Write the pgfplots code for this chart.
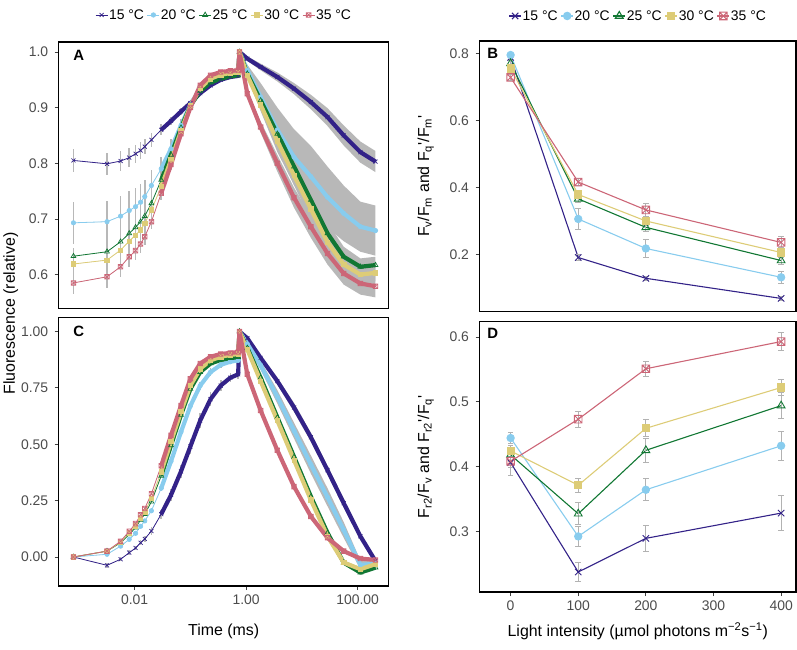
\documentclass[border=0pt]{standalone}
\usepackage{fontspec}
\setmainfont{Liberation Sans}
\usepackage{pgfplots}
\usepackage{pgfplotstable}
\pgfplotsset{compat=1.18}
\usepgfplotslibrary{fillbetween}

\definecolor{c15}{HTML}{332288}
\definecolor{c20}{HTML}{88CCEE}
\definecolor{c25}{HTML}{117733}
\definecolor{c30}{HTML}{DDCC77}
\definecolor{c35}{HTML}{CC6677}

\newcommand\tickfont{\fontsize{14}{15}\selectfont}
\newcommand\titlefont{\fontsize{16}{18}\selectfont}
\newcommand\legfont{\fontsize{14}{16}\selectfont}
\newcommand\letterfont{\fontsize{15}{16}\selectfont\bfseries}

% square with a cross (ggplot shape 7)
\pgfdeclareplotmark{boxx}{%
  \pgfpathrectangle{\pgfpoint{-\pgfplotmarksize}{-\pgfplotmarksize}}{\pgfpoint{2\pgfplotmarksize}{2\pgfplotmarksize}}%
  \pgfpathmoveto{\pgfpoint{-\pgfplotmarksize}{-\pgfplotmarksize}}%
  \pgfpathlineto{\pgfpoint{\pgfplotmarksize}{\pgfplotmarksize}}%
  \pgfpathmoveto{\pgfpoint{-\pgfplotmarksize}{\pgfplotmarksize}}%
  \pgfpathlineto{\pgfpoint{\pgfplotmarksize}{-\pgfplotmarksize}}%
  \pgfusepathqstroke}

% ---- panel A: dark-adapted induction + relaxation (t in ms) ----
% e = error bar, r = ribbon half width
\pgfplotstableread{
t v e r
0.0008 0.805 0.020 0
0.0032 0.799 0.020 0
0.0056 0.804 0.018 0
0.008 0.810 0.017 0
0.0104 0.817 0.016 0
0.0128 0.823 0.015 0
0.0152 0.830 0.014 0
0.02 0.842 0.012 0
0.03 0.860 0.010 0
0.045 0.876 0.008 0
0.068 0.893 0.006 0
0.1 0.908 0.005 0
0.15 0.926 0.004 0
0.23 0.940 0.003 0
0.35 0.950 0.003 0
0.52 0.955 0.003 0
0.72 0.957 0.003 0
0.76 1.000 0 0
1.05 0.988 0 0.004
1.82 0.973 0 0.006
3.63 0.955 0 0.008
7.24 0.934 0 0.010
14.5 0.910 0 0.013
28.8 0.883 0 0.016
56.2 0.850 0 0.018
112 0.820 0 0.019
209 0.803 0 0.019
}\Aa
\pgfplotstableread{
t v e r
0.0008 0.693 0.038 0
0.0032 0.695 0.038 0
0.0056 0.705 0.037 0
0.008 0.715 0.036 0
0.0104 0.722 0.034 0
0.0128 0.730 0.032 0
0.0152 0.740 0.030 0
0.02 0.760 0.027 0
0.03 0.790 0.022 0
0.045 0.826 0.017 0
0.068 0.868 0.012 0
0.1 0.905 0.008 0
0.15 0.935 0.005 0
0.23 0.952 0.004 0
0.35 0.959 0.003 0
0.52 0.962 0.003 0
0.72 0.963 0.003 0
0.76 1.000 0 0
1.05 0.967 0 0.010
1.82 0.919 0 0.025
3.63 0.860 0 0.040
7.24 0.811 0 0.050
14.5 0.776 0 0.055
28.8 0.739 0 0.055
56.2 0.710 0 0.050
112 0.686 0 0.045
209 0.679 0 0.045
}\Ab
\pgfplotstableread{
t v e r
0.0008 0.633 0.015 0
0.0032 0.641 0.015 0
0.0056 0.659 0.015 0
0.008 0.674 0.015 0
0.0104 0.685 0.015 0
0.0128 0.695 0.015 0
0.0152 0.705 0.014 0
0.02 0.728 0.013 0
0.03 0.770 0.011 0
0.045 0.815 0.009 0
0.068 0.864 0.007 0
0.1 0.903 0.005 0
0.15 0.930 0.004 0
0.23 0.945 0.003 0
0.35 0.952 0.003 0
0.52 0.956 0.003 0
0.72 0.958 0.003 0
0.76 1.000 0 0
1.05 0.961 0 0.005
1.82 0.913 0 0.010
3.63 0.853 0 0.015
7.24 0.794 0 0.018
14.5 0.734 0 0.020
28.8 0.674 0 0.020
56.2 0.632 0 0.018
112 0.614 0 0.015
209 0.617 0 0.015
}\Ac
\pgfplotstableread{
t v e r
0.0008 0.619 0.020 0
0.0032 0.626 0.020 0
0.0056 0.644 0.019 0
0.008 0.660 0.018 0
0.0104 0.671 0.017 0
0.0128 0.680 0.016 0
0.0152 0.692 0.015 0
0.02 0.716 0.014 0
0.03 0.758 0.012 0
0.045 0.806 0.010 0
0.068 0.858 0.008 0
0.1 0.903 0.006 0
0.15 0.935 0.004 0
0.23 0.952 0.003 0
0.35 0.959 0.003 0
0.52 0.962 0.003 0
0.72 0.963 0.003 0
0.76 1.000 0 0
1.05 0.958 0 0.005
1.82 0.905 0 0.010
3.63 0.840 0 0.015
7.24 0.778 0 0.018
14.5 0.718 0 0.020
28.8 0.658 0 0.020
56.2 0.618 0 0.018
112 0.600 0 0.015
209 0.603 0 0.015
}\Ad
\pgfplotstableread{
t v e r
0.0008 0.585 0.020 0
0.0032 0.596 0.020 0
0.0056 0.614 0.019 0
0.008 0.632 0.018 0
0.0104 0.643 0.017 0
0.0128 0.655 0.016 0
0.0152 0.668 0.015 0
0.02 0.695 0.014 0
0.03 0.746 0.012 0
0.045 0.798 0.010 0
0.068 0.853 0.008 0
0.1 0.900 0.006 0
0.15 0.940 0.004 0
0.23 0.958 0.003 0
0.35 0.964 0.003 0
0.52 0.966 0.003 0
0.72 0.967 0.003 0
0.76 1.000 0 0
1.05 0.925 0 0.005
1.82 0.865 0 0.010
3.63 0.800 0 0.015
7.24 0.738 0 0.018
14.5 0.686 0 0.020
28.8 0.638 0 0.020
56.2 0.602 0 0.020
112 0.584 0 0.020
209 0.579 0 0.020
}\Ae

% ---- panel C ----
\pgfplotstableread{
t v e r
0.0008 0.000 0 0
0.0032 -0.037 0.010 0
0.0056 -0.010 0.010 0
0.008 0.019 0.010 0
0.0104 0.040 0.010 0
0.0128 0.063 0.012 0
0.0152 0.080 0.014 0
0.02 0.115 0.016 0
0.03 0.190 0.020 0
0.045 0.275 0.025 0
0.068 0.380 0.030 0
0.1 0.490 0.035 0
0.15 0.605 0.035 0
0.23 0.700 0.030 0
0.35 0.760 0.025 0
0.52 0.795 0.020 0
0.72 0.810 0.020 0
0.76 1.000 0 0
1.05 0.970 0 0.005
1.82 0.883 0 0.010
3.63 0.780 0 0.015
7.24 0.663 0 0.020
14.5 0.531 0 0.020
28.8 0.385 0 0.020
56.2 0.239 0 0.020
112 0.092 0 0.015
209 -0.018 0 0.010
}\Ca
\pgfplotstableread{
t v e r
0.0008 0.000 0 0
0.0032 0.012 0.005 0
0.0056 0.048 0.006 0
0.008 0.078 0.007 0
0.0104 0.105 0.008 0
0.0128 0.136 0.009 0
0.0152 0.160 0.010 0
0.02 0.205 0.011 0
0.03 0.305 0.013 0
0.045 0.425 0.015 0
0.068 0.555 0.017 0
0.1 0.670 0.018 0
0.15 0.760 0.018 0
0.23 0.820 0.016 0
0.35 0.852 0.014 0
0.52 0.866 0.012 0
0.72 0.872 0.012 0
0.76 1.000 0 0
1.05 0.945 0 0.010
1.82 0.850 0 0.020
3.63 0.710 0 0.030
7.24 0.560 0 0.035
14.5 0.410 0 0.040
28.8 0.265 0 0.040
56.2 0.120 0 0.035
112 -0.035 0 0.020
209 -0.030 0 0.015
}\Cb
\pgfplotstableread{
t v e r
0.0008 0.000 0 0
0.0032 0.026 0.006 0
0.0056 0.063 0.006 0
0.008 0.100 0.006 0
0.0104 0.130 0.006 0
0.0128 0.165 0.006 0
0.0152 0.190 0.006 0
0.02 0.245 0.006 0
0.03 0.360 0.006 0
0.045 0.495 0.006 0
0.068 0.630 0.006 0
0.1 0.745 0.006 0
0.15 0.820 0.006 0
0.23 0.858 0.006 0
0.35 0.874 0.006 0
0.52 0.882 0.006 0
0.72 0.886 0.006 0
0.76 1.000 0 0
1.05 0.927 0 0.005
1.82 0.795 0 0.008
3.63 0.619 0 0.010
7.24 0.444 0 0.012
14.5 0.268 0 0.012
28.8 0.107 0 0.012
56.2 -0.025 0 0.010
112 -0.069 0 0.008
209 -0.047 0 0.008
}\Cc
\pgfplotstableread{
t v e r
0.0008 0.000 0 0
0.0032 0.026 0.006 0
0.0056 0.066 0.006 0
0.008 0.107 0.006 0
0.0104 0.138 0.006 0
0.0128 0.173 0.006 0
0.0152 0.200 0.006 0
0.02 0.260 0.006 0
0.03 0.378 0.006 0
0.045 0.512 0.006 0
0.068 0.645 0.006 0
0.1 0.760 0.006 0
0.15 0.835 0.006 0
0.23 0.872 0.006 0
0.35 0.888 0.006 0
0.52 0.896 0.006 0
0.72 0.900 0.006 0
0.76 1.000 0 0
1.05 0.920 0 0.005
1.82 0.780 0 0.008
3.63 0.605 0 0.010
7.24 0.429 0 0.012
14.5 0.253 0 0.012
28.8 0.092 0 0.012
56.2 -0.025 0 0.010
112 -0.054 0 0.008
209 -0.032 0 0.008
}\Cd
\pgfplotstableread{
t v e r
0.0008 0.000 0 0
0.0032 0.026 0.006 0
0.0056 0.070 0.006 0
0.008 0.114 0.006 0
0.0104 0.148 0.006 0
0.0128 0.187 0.006 0
0.0152 0.215 0.006 0
0.02 0.280 0.006 0
0.03 0.405 0.006 0
0.045 0.540 0.006 0
0.068 0.672 0.006 0
0.1 0.790 0.006 0
0.15 0.858 0.006 0
0.23 0.888 0.006 0
0.35 0.900 0.006 0
0.52 0.905 0.006 0
0.72 0.909 0.006 0
0.76 1.000 0 0
1.05 0.810 0 0.005
1.82 0.650 0 0.008
3.63 0.473 0 0.010
7.24 0.312 0 0.012
14.5 0.180 0 0.012
28.8 0.085 0 0.010
56.2 0.026 0 0.008
112 -0.007 0 0.008
209 -0.013 0 0.008
}\Ce

% ---- panels B and D (light intensity) ----
\pgfplotstableread{
x v e
0 0.788 0.005
100 0.191 0.008
200 0.129 0.006
400 0.069 0.005
}\Ba
\pgfplotstableread{
x v e
0 0.795 0.005
100 0.306 0.030
200 0.218 0.027
400 0.132 0.018
}\Bb
\pgfplotstableread{
x v e
0 0.770 0.008
100 0.366 0.012
200 0.281 0.012
400 0.182 0.012
}\Bc
\pgfplotstableread{
x v e
0 0.755 0.008
100 0.379 0.012
200 0.300 0.014
400 0.206 0.015
}\Bd
\pgfplotstableread{
x v e
0 0.728 0.008
100 0.416 0.010
200 0.333 0.018
400 0.236 0.018
}\Be
\pgfplotstableread{
x v e
0 0.406 0.020
100 0.237 0.015
200 0.289 0.020
400 0.328 0.027
}\Da
\pgfplotstableread{
x v e
0 0.444 0.008
100 0.292 0.016
200 0.364 0.017
400 0.432 0.022
}\Db
\pgfplotstableread{
x v e
0 0.418 0.010
100 0.327 0.017
200 0.425 0.018
400 0.494 0.020
}\Dc
\pgfplotstableread{
x v e
0 0.424 0.008
100 0.371 0.011
200 0.459 0.013
400 0.522 0.013
}\Dd
\pgfplotstableread{
x v e
0 0.408 0.010
100 0.473 0.012
200 0.551 0.012
400 0.593 0.014
}\De

\pgfplotsset{
  panel/.style={scale only axis, anchor=south west, axis on top,
    axis line style={line width=1.3bp, black},
    tick align=outside, major tick length=4bp,
    tick style={line width=0.8bp, black!75},
    xtick pos=bottom, ytick pos=left,
    ticklabel style={font=\tickfont, text=black!70},
    yticklabel style={xshift=-3bp},
    xticklabel style={yshift=-1.5bp},
    /pgf/number format/assume math mode=true,
    minor tick num=0},
  sA15/.style={c15, mark=x, mark size=2.8bp},
  sA20/.style={c20, mark=*, mark size=2.2bp},
  sA25/.style={c25, mark=triangle, mark size=2.8bp},
  sA30/.style={c30, mark=square*, mark size=2.2bp},
  sA35/.style={c35, mark=boxx, mark size=2.3bp},
  sB15/.style={c15, mark=x, mark size=4.5bp},
  sB20/.style={c20, mark=*, mark size=3.7bp},
  sB25/.style={c25, mark=triangle, mark size=4.5bp},
  sB30/.style={c30, mark=square*, mark size=3.6bp},
  sB35/.style={c35, mark=boxx, mark size=3.8bp},
  legimg/.style={legend image code/.code={%
    \draw[mark repeat=2, mark phase=2, ##1] plot coordinates {(0bp,0bp) (6bp,0bp) (12bp,0bp)};}},
  legtop/.style={legend style={at={(0.5,1)}, anchor=center, yshift=#1,
    draw=none, fill=none, font=\legfont, legend columns=5,
    /tikz/every even column/.append style={column sep=2bp},
    nodes={inner xsep=1bp, inner ysep=1bp}}},
}

% gray band (ribbon) and error bars behind a trace
\newcommand\spread[2]{%
  \addplot[draw=none, forget plot, name path=#2u] table[x=t, y expr=\thisrow{v}+\thisrow{r}] {#1};
  \addplot[draw=none, forget plot, name path=#2l] table[x=t, y expr=\thisrow{v}-\thisrow{r}] {#1};
  \addplot[fill=black!28, draw=none, forget plot] fill between[of=#2u and #2l];
  \addplot[forget plot, draw=none, no markers, error bars/.cd, y dir=both, y explicit,
    error mark=none, error bar style={draw=black!28, line width=1.6bp}]
    table[x=t, y=v, y error=e] {#1};
}
% thick band where the points crowd, thin line with marks on top
\newcommand\trace[2]{%
  \addplot[#2, mark=none, line width=4.2bp, line join=round, forget plot,
    skip coords between index={0}{8}] table[x=t, y=v] {#1};
  \addplot[#2, line width=0.8bp, mark options={solid, line width=0.7bp}, forget plot]
    table[x=t, y=v] {#1};
}
\newcommand\light[2]{%
  \addplot[#2, line width=1.1bp, mark options={solid, line width=0.9bp}, forget plot,
    error bars/.cd, y dir=both, y explicit,
    error bar style={draw=black!30, line width=0.9bp},
    error mark options={draw=black!30, rotate=90, mark size=2.8bp, line width=0.9bp}]
    table[x=x, y=v, y error=e] {#1};
}

\begin{document}
\begin{tikzpicture}
\path (0bp,0bp) rectangle (797bp,651bp);

% ---------- A ----------
\begin{axis}[panel, at={(57.5bp,342bp)}, width=330.5bp, height=267bp,
  xmode=log, xmin=0.000434, xmax=359.7, ymin=0.539, ymax=1.018,
  xtick=\empty, ytick={0.6,0.7,0.8,0.9,1.0},
  yticklabel style={/pgf/number format/fixed, /pgf/number format/fixed zerofill,
    /pgf/number format/precision=1},
  legimg, legtop=27bp]
\spread{\Aa}{aa}\spread{\Ab}{ab}\spread{\Ac}{ac}\spread{\Ad}{ad}\spread{\Ae}{ae}
\trace{\Aa}{sA15}\trace{\Ab}{sA20}\trace{\Ac}{sA25}\trace{\Ad}{sA30}\trace{\Ae}{sA35}
\addlegendimage{sA15, line width=0.8bp}\addlegendentry{15 °C}
\addlegendimage{sA20, line width=0.8bp}\addlegendentry{20 °C}
\addlegendimage{sA25, line width=0.8bp}\addlegendentry{25 °C}
\addlegendimage{sA30, line width=0.8bp}\addlegendentry{30 °C}
\addlegendimage{sA35, line width=0.8bp}\addlegendentry{35 °C}
\node[font=\letterfont, anchor=north west, inner sep=0pt] at (axis description cs:0.044,0.970) {A};
\end{axis}

% ---------- C ----------
\begin{axis}[panel, at={(57.5bp,64bp)}, width=330.5bp, height=269bp,
  xmode=log, xmin=0.000434, xmax=359.7, ymin=-0.129, ymax=1.062,
  xtick={0.01,1,100}, xticklabels={0.01,1.00,100.00}, minor xtick={},
  ytick={0,0.25,0.5,0.75,1},
  yticklabel style={/pgf/number format/fixed, /pgf/number format/fixed zerofill,
    /pgf/number format/precision=2},
  xlabel={Time (ms)},
  xlabel style={font=\titlefont, at={(axis description cs:0.5,-0.167)}, anchor=center}]
\spread{\Ca}{ca}\spread{\Cb}{cb}\spread{\Cc}{cc}\spread{\Cd}{cd}\spread{\Ce}{ce}
\trace{\Ca}{sA15}\trace{\Cb}{sA20}\trace{\Cc}{sA25}\trace{\Cd}{sA30}\trace{\Ce}{sA35}
\node[font=\letterfont, anchor=north west, inner sep=0pt] at (axis description cs:0.044,0.970) {C};
\end{axis}

\node[rotate=90, font=\titlefont] at (9.5bp,337bp) {Fluorescence (relative)};

% ---------- B ----------
\begin{axis}[panel, at={(479bp,339bp)}, width=317bp, height=271bp,
  xmin=-46, xmax=422, ymin=0.03, ymax=0.837,
  xtick=\empty, ytick={0.2,0.4,0.6,0.8},
  yticklabel style={/pgf/number format/fixed, /pgf/number format/fixed zerofill,
    /pgf/number format/precision=1},
  ylabel={F\textsubscript{v}/F\textsubscript{m} and F\textsubscript{q}\textquotesingle/F\textsubscript{m}\textquotesingle},
  ylabel style={font=\titlefont, at={(axis description cs:-0.17,0.5)}, anchor=center},
  legimg, legtop=25bp]
\light{\Ba}{sB15}\light{\Bb}{sB20}\light{\Bc}{sB25}\light{\Bd}{sB30}\light{\Be}{sB35}
\addlegendimage{sB15, line width=1.1bp}\addlegendentry{15 °C}
\addlegendimage{sB20, line width=1.1bp}\addlegendentry{20 °C}
\addlegendimage{sB25, line width=1.1bp}\addlegendentry{25 °C}
\addlegendimage{sB30, line width=1.1bp}\addlegendentry{30 °C}
\addlegendimage{sB35, line width=1.1bp}\addlegendentry{35 °C}
\node[font=\letterfont, anchor=north west, inner sep=0pt] at (axis description cs:0.024,0.974) {B};
\end{axis}

% ---------- D ----------
\begin{axis}[panel, at={(479bp,58bp)}, width=317bp, height=271bp,
  xmin=-46, xmax=422, ymin=0.206, ymax=0.624,
  xtick={0,100,200,300,400}, ytick={0.3,0.4,0.5,0.6},
  yticklabel style={/pgf/number format/fixed, /pgf/number format/fixed zerofill,
    /pgf/number format/precision=1},
  ylabel={F\textsubscript{r2}/F\textsubscript{v} and F\textsubscript{r2}\textquotesingle/F\textsubscript{q}\textquotesingle},
  ylabel style={font=\titlefont, at={(axis description cs:-0.17,0.5)}, anchor=center},
  xlabel={Light intensity (µmol photons m\textsuperscript{−2}s\textsuperscript{−1})},
  xlabel style={font=\titlefont, at={(axis description cs:0.5,-0.144)}, anchor=center}]
\light{\Da}{sB15}\light{\Db}{sB20}\light{\Dc}{sB25}\light{\Dd}{sB30}\light{\De}{sB35}
\node[font=\letterfont, anchor=north west, inner sep=0pt] at (axis description cs:0.024,0.974) {D};
\end{axis}
\end{tikzpicture}
\end{document}
